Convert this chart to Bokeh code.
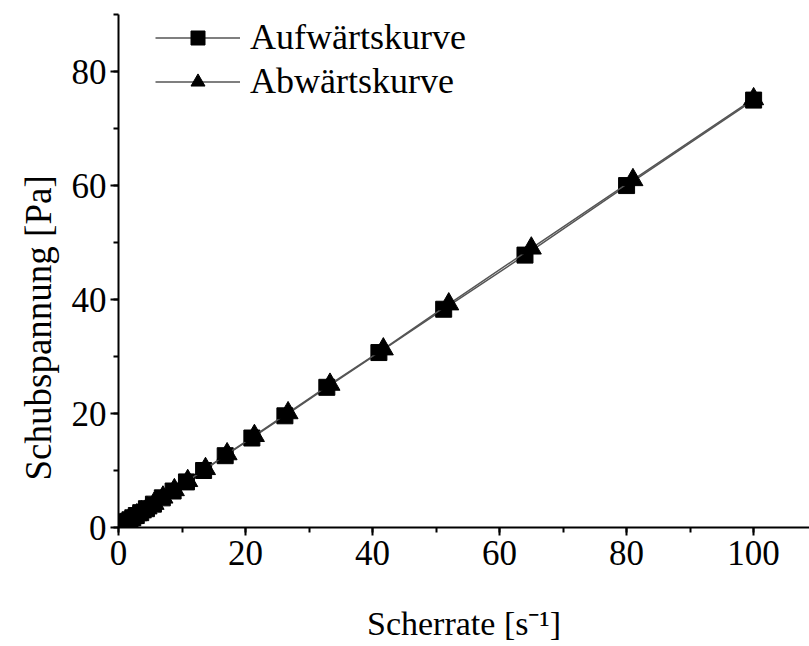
from bokeh.plotting import figure
from bokeh.models import Range1d, SingleIntervalTicker, Legend, LegendItem, Title
from bokeh.embed import file_html
from bokeh.resources import INLINE

# Aufwärtskurve (squares)
up_rate = [0.74, 0.92, 1.15, 1.44, 1.8, 2.25, 2.8, 3.5, 4.4, 5.5, 6.9, 8.6,
           10.7, 13.4, 16.8, 21.0, 26.2, 32.8, 41.0, 51.2, 64.0, 80.0, 100.0]
up_stress = [0.55, 0.69, 0.86, 1.08, 1.35, 1.7, 2.1, 2.6, 3.3, 4.1, 5.2, 6.4,
             8.0, 10.0, 12.6, 15.7, 19.6, 24.6, 30.7, 38.3, 47.8, 60.0, 75.0]

# Abwärtskurve (triangles)
down_rate = [0.76, 0.95, 1.18, 1.48, 1.85, 2.3, 2.9, 3.6, 4.5, 5.6, 7.0, 8.8,
             10.9, 13.7, 17.1, 21.4, 26.7, 33.3, 41.7, 52.0, 65.0, 81.0, 100.0]
down_stress = [0.57, 0.7, 0.88, 1.1, 1.4, 1.7, 2.2, 2.7, 3.4, 4.2, 5.3, 6.6,
               8.2, 10.3, 12.9, 16.1, 20.1, 25.1, 31.3, 39.2, 49.0, 61.0, 75.2]

series_names = ["Aufwärtskurve", "Abwärtskurve"]
x_title = "Scherrate [s\u207b\u00b9]"
y_title = "Schubspannung [Pa]"

FONT = "Liberation Serif"

p = figure(width=809, height=646, output_backend="svg", toolbar_location=None,
           x_range=Range1d(0, 108.8), y_range=Range1d(0, 90.02),
           min_border_left=118, min_border_right=0, min_border_top=14,
           min_border_bottom=119)

p.grid.visible = False
p.outline_line_color = None
p.background_fill_color = "white"
p.border_fill_color = "white"

p.xaxis.ticker = SingleIntervalTicker(interval=20, num_minor_ticks=2)
p.yaxis.ticker = SingleIntervalTicker(interval=20, num_minor_ticks=2)

for ax in (p.xaxis[0], p.yaxis[0]):
    ax.axis_line_color = "black"
    ax.axis_line_width = 2
    ax.major_tick_line_color = "black"
    ax.major_tick_line_width = 2
    ax.minor_tick_line_color = "black"
    ax.minor_tick_line_width = 2
    ax.major_tick_in = 0
    ax.major_tick_out = 8
    ax.minor_tick_in = 0
    ax.minor_tick_out = 5
    ax.major_label_text_font = FONT
    ax.major_label_text_font_size = "35px"
    ax.major_label_text_color = "black"

p.xaxis.major_label_standoff = 5
p.yaxis.major_label_standoff = 4

p.xaxis.axis_label = x_title
p.xaxis.axis_label_text_font = FONT
p.xaxis.axis_label_text_font_size = "34px"
p.xaxis.axis_label_text_font_style = "normal"
p.xaxis.axis_label_text_color = "black"
p.xaxis.axis_label_standoff = 37

ytitle = Title(text=y_title, align="left", offset=47,
               text_font=FONT, text_font_size="37px", text_font_style="normal",
               text_color="black", standoff=20)
p.add_layout(ytitle, "left")

l1 = p.line(up_rate, up_stress, line_color="#555555", line_width=1.5)
s1 = p.scatter(up_rate, up_stress, marker="square", size=16,
               fill_color="black", line_color="black")
l2 = p.line(down_rate, down_stress, line_color="#555555", line_width=1.5)
s2 = p.scatter(down_rate, down_stress, marker="triangle", size=20,
               fill_color="black", line_color="black")

legend = Legend(items=[LegendItem(label=series_names[0], renderers=[l1, s1]),
                       LegendItem(label=series_names[1], renderers=[l2, s2])],
                location=(37, 425), padding=0, margin=0, spacing=2,
                glyph_width=85, glyph_height=35, label_height=40,
                label_standoff=10,
                label_text_font=FONT, label_text_font_size="36px",
                label_text_color="black",
                border_line_color=None, background_fill_alpha=0)
p.add_layout(legend)

open("out.html", "w").write(file_html(p, INLINE))
